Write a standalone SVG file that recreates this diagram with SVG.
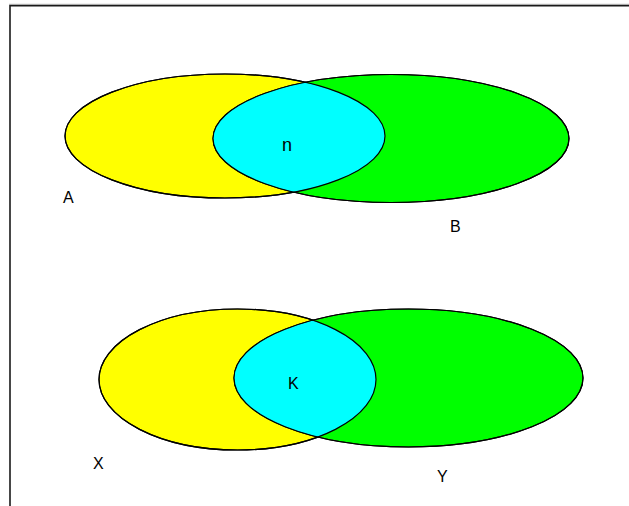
<svg xmlns="http://www.w3.org/2000/svg" width="629" height="506" viewBox="0 0 629 506">
  <style>
    .set { stroke: #000; stroke-width: 1.2; }
    .outline { fill: none; stroke: #000; stroke-width: 1.2; }
    .yellow { fill: #FFFF00; }
    .green { fill: #00FF00; }
    .cyan { fill: #00FFFF; }
    .lbl { font-family: "Liberation Sans", Arial, sans-serif; font-size: 16px; fill: #000; }
  </style>
  <defs>
    <clipPath id="clipA"><ellipse cx="225" cy="136" rx="160" ry="62"/></clipPath>
    <clipPath id="clipX"><ellipse cx="237.5" cy="379.5" rx="138.5" ry="70.5"/></clipPath>
  </defs>
  <rect x="0" y="0" width="629" height="506" fill="#fff"/>
  <g id="frame">
    <path d="M9 4.2 H629" fill="none" stroke="#cfcfcf" stroke-width="1"/>
    <path d="M10 506 V5.6 H629" fill="none" stroke="#1a1a1a" stroke-width="1.6"/>
  </g>

  <g id="top-venn">
    <g id="setA">
      <ellipse class="set yellow" cx="225" cy="136" rx="160" ry="62"/>
    </g>
    <g id="setB">
      <ellipse class="set green" cx="391" cy="138.5" rx="178" ry="64"/>
    </g>
    <g id="intersectionAB">
      <ellipse class="cyan" cx="391" cy="138.5" rx="178" ry="64" clip-path="url(#clipA)"/>
      <ellipse class="outline" cx="225" cy="136" rx="160" ry="62"/>
      <ellipse class="outline" cx="391" cy="138.5" rx="178" ry="64"/>
    </g>
    <text class="lbl" x="282" y="151" style="font-size:18px">n</text>
    <text class="lbl" x="63" y="203">A</text>
    <text class="lbl" x="450" y="232">B</text>
  </g>

  <g id="bottom-venn">
    <g id="setX">
      <ellipse class="set yellow" cx="237.5" cy="379.5" rx="138.5" ry="70.5"/>
    </g>
    <g id="setY">
      <ellipse class="set green" cx="408.5" cy="378" rx="174.5" ry="69"/>
    </g>
    <g id="intersectionXY">
      <ellipse class="cyan" cx="408.5" cy="378" rx="174.5" ry="69" clip-path="url(#clipX)"/>
      <ellipse class="outline" cx="237.5" cy="379.5" rx="138.5" ry="70.5"/>
      <ellipse class="outline" cx="408.5" cy="378" rx="174.5" ry="69"/>
    </g>
    <text class="lbl" x="288" y="389">K</text>
    <text class="lbl" x="93" y="469">X</text>
    <text class="lbl" x="437" y="482">Y</text>
  </g>
</svg>
